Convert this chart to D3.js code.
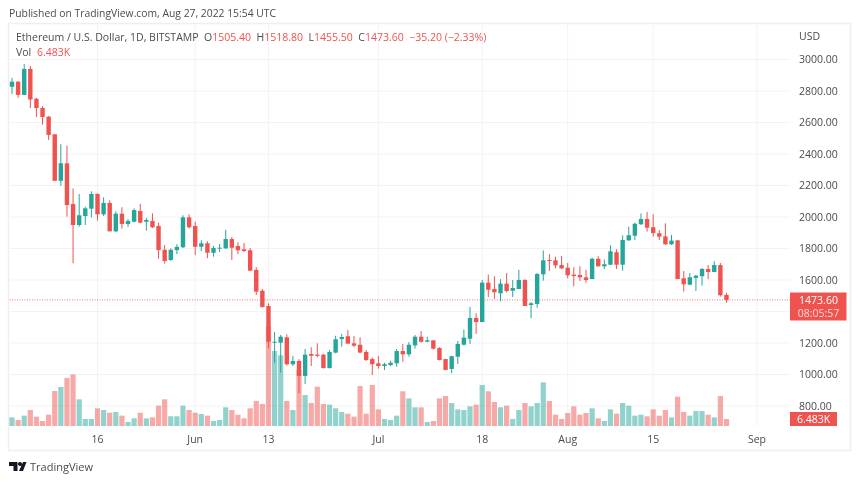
<!DOCTYPE html>
<html><head><meta charset="utf-8">
<script src="https://cdn.jsdelivr.net/npm/d3@7"></script>
<style>html,body{margin:0;padding:0;background:#fff}svg{display:block;filter:blur(.3px)}text{font-family:"Open Sans",sans-serif}</style>
</head><body><svg id="c" width="860" height="482"></svg>
<script>
const startDate = "2022-05-02";
const opens = [2827,2859,2775,2940,2751,2692,2637,2525,2230,2341,2083,1949,2006,2053,2146,2017,2089,1909,2021,1956,1970,2038,1970,1975,1943,1792,1727,1790,1808,1998,1943,1811,1833,1773,1799,1801,1860,1816,1795,1789,1664,1532,1435,1202,1202,1236,1065,1086,991,1130,1126,1126,1041,1139,1225,1243,1198,1189,1143,1098,1071,1054,1060,1071,1149,1128,1185,1240,1208,1217,1168,1098,1035,1113,1189,1227,1359,1333,1583,1543,1516,1577,1532,1543,1600,1441,1448,1636,1727,1725,1695,1678,1634,1632,1617,1606,1735,1687,1697,1776,1697,1852,1881,1954,1987,1935,1897,1877,1827,1852,1611,1570,1613,1624,1670,1651,1695,1505.4];
const highs = [2883,2863,2971,2959,2756,2705,2641,2525,2462,2453,2182,2146,2065,2163,2150,2125,2106,2036,2062,1987,2055,2084,1994,2023,1964,1822,1801,1827,2011,2017,1970,1852,1846,1816,1829,1919,1873,1839,1835,1803,1681,1543,1452,1270,1251,1255,1118,1097,1162,1173,1198,1130,1156,1246,1257,1283,1244,1236,1156,1109,1118,1075,1088,1162,1194,1206,1251,1276,1240,1217,1173,1098,1120,1213,1285,1429,1389,1600,1634,1624,1605,1644,1600,1664,1605,1460,1644,1788,1765,1748,1752,1708,1681,1687,1664,1742,1752,1731,1820,1795,1884,1938,1964,2023,2032,2017,1917,1960,1886,1852,1657,1644,1632,1676,1695,1719,1708,1518.8];
const lows = [2781,2757,2775,2692,2635,2586,2489,2229,2199,2002,1706,1938,1949,1998,1977,2006,1909,1903,1926,1938,1966,1960,1913,1930,1735,1704,1721,1765,1803,1926,1759,1784,1738,1748,1778,1797,1727,1765,1778,1659,1505,1424,1166,1075,1012,1056,1054,881,940,1054,1109,1038,1038,1135,1177,1194,1173,1137,1086,997,1037,1029,1054,1050,1081,1113,1164,1202,1205,1158,1090,1027,1008,1067,1185,1194,1257,1333,1492,1481,1465,1522,1492,1543,1435,1357,1424,1596,1657,1674,1670,1611,1560,1594,1583,1606,1685,1670,1697,1670,1659,1848,1854,1949,1907,1875,1854,1822,1822,1606,1526,1566,1530,1564,1606,1651,1494,1455.5];
const closes = [2859,2775,2940,2746,2692,2635,2521,2230,2341,2076,1949,2011,2055,2146,2017,2089,1909,2021,1956,1975,2044,1964,1981,1935,1790,1721,1792,1810,1998,1935,1811,1833,1773,1803,1805,1860,1805,1789,1784,1659,1526,1429,1208,1208,1240,1065,1086,991,1126,1119,1118,1041,1143,1224,1238,1196,1183,1139,1092,1065,1054,1065,1075,1149,1128,1189,1240,1208,1217,1164,1092,1029,1116,1194,1234,1359,1333,1583,1538,1522,1577,1530,1549,1600,1435,1452,1638,1725,1721,1693,1674,1630,1625,1617,1600,1735,1687,1700,1782,1697,1854,1884,1957,1987,1932,1898,1875,1827,1850,1606,1573,1617,1627,1670,1651,1695,1503,1473.6];
const volumes = [8.0,5.6,9.6,14.8,8.6,4.6,10.5,32.4,36.1,44.5,47.8,24.7,6.5,6.5,16.4,14.8,12.3,13.0,9.6,3.7,7.1,12.3,7.1,8.0,18.8,24.7,9.0,9.0,18.8,14.8,12.3,11.1,9.6,4.6,5.6,17.3,14.8,10.5,7.1,16.4,23.2,20.4,92.6,69.5,65.5,23.2,14.8,51.9,28.7,21.3,36.4,20.4,19.8,16.4,13.0,11.4,8.6,37.0,11.4,38.0,15.4,6.5,5.6,9.6,32.1,25.6,17.3,17.3,3.7,4.6,25.6,27.8,21.3,15.4,14.8,18.2,19.8,38.0,32.1,22.2,17.3,18.8,6.5,14.8,21.3,18.2,21.3,40.4,23.2,10.5,6.5,12.0,18.2,10.5,12.0,16.4,7.1,4.6,15.4,11.4,21.3,18.8,9.6,10.5,9.0,15.4,9.6,14.8,8.0,27.2,13.0,9.6,13.9,13.9,10.5,8.0,27.8,6.483];
const gridTicks = [3000,2800,2600,2400,2200,2000,1800,1600,1400,1200,1000,800];
const priceLabels = [3000,2800,2600,2400,2200,2000,1800,1600,1200,1000,800];
const timeTicks = [["2022-05-16","16"],["2022-06-01","Jun"],["2022-06-13","13"],["2022-07-01","Jul"],["2022-07-18","18"],["2022-08-01","Aug"],["2022-08-15","15"],["2022-09-01","Sep"]];
const titleText = "Ethereum / U.S. Dollar, 1D, BITSTAMP";
const published = "Published on TradingView.com, Aug 27, 2022 15:54 UTC";
const ohlcLegend = [["O","1505.40"],["H","1518.80"],["L","1455.50"],["C","1473.60"],["","\u221235.20 (\u22122.33%)"]];

const UP="#26a69a", DOWN="#ef5350", GRID="#f3f3f6", TEXT="#4a4a52", FRAME="#eeeef4";
const parse=d3.utcParse("%Y-%m-%d");
const svg=d3.select("#c");
const x=d3.scaleUtc().domain([parse("2022-05-02"),parse("2022-09-01")]).range([12,757]);
const y=d3.scaleLinear().domain([800,3000]).range([406,59.5]);
const v=d3.scaleLinear().domain([0,6.483]).range([426,419]);
const days=opens.map((_,i)=>d3.utcDay.offset(parse(startDate),i));
const candles=days.map((d,i)=>({d,o:opens[i],h:highs[i],l:lows[i],c:closes[i],vol:volumes[i]}));
const col=d=>d.c>=d.o?UP:DOWN;

// frame
const L=8.5,R=850.5,T=23.5,B=450.5,AX=790;
svg.append("rect").attr("x",L).attr("y",T).attr("width",R-L).attr("height",B-T).attr("fill","#fff").attr("stroke",FRAME).attr("stroke-width",1.5);

// grid
svg.append("g").selectAll("line").data(gridTicks).join("line")
 .attr("x1",L+1).attr("x2",AX).attr("y1",d=>y(d)).attr("y2",d=>y(d)).attr("stroke",GRID);
svg.append("g").selectAll("line").data(timeTicks).join("line")
 .attr("x1",d=>x(parse(d[0]))).attr("x2",d=>x(parse(d[0]))).attr("y1",T+1).attr("y2",426).attr("stroke",GRID);

// volume
svg.append("g").selectAll("rect").data(candles).join("rect")
 .attr("x",d=>x(d.d)-2.6).attr("width",5.2).attr("y",d=>v(d.vol)).attr("height",d=>426-v(d.vol))
 .attr("fill",col).attr("fill-opacity",.5);

// last price line
svg.append("line").attr("x1",L+1).attr("x2",AX).attr("y1",y(1473.6)).attr("y2",y(1473.6))
 .attr("stroke",DOWN).attr("stroke-dasharray","1 1.5").attr("stroke-opacity",.8);

// candles
svg.append("g").selectAll("line").data(candles).join("line")
 .attr("x1",d=>x(d.d)).attr("x2",d=>x(d.d)).attr("y1",d=>y(d.h)).attr("y2",d=>y(d.l))
 .attr("stroke",col).attr("stroke-width",1);
svg.append("g").selectAll("rect").data(candles).join("rect")
 .attr("x",d=>x(d.d)-2.2).attr("width",4.4)
 .attr("y",d=>y(Math.max(d.o,d.c))).attr("height",d=>Math.max(1,Math.abs(y(d.o)-y(d.c))))
 .attr("fill",col);

// price axis
const t=(s,px,py,o={})=>svg.append("text").text(s).attr("x",px).attr("y",py)
 .attr("font-size",o.size||10.5).attr("fill",o.fill||TEXT).attr("text-anchor",o.anchor||"start").attr("font-weight",o.weight||400);
priceLabels.forEach(p=>t(d3.format(".2f")(p),799,y(p)+3.7));
t("USD",799,40);
timeTicks.forEach(d=>t(d[1],x(parse(d[0])),442.5,{anchor:"middle"}));

// labels
svg.append("rect").attr("x",AX).attr("y",292.5).attr("width",56.5).attr("height",28).attr("fill",DOWN);
t("1473.60",818.5,304,{fill:"#fff",anchor:"middle"});
t("08:05:57",818.5,317,{fill:"#ffd8d7",anchor:"middle"});
svg.append("rect").attr("x",AX).attr("y",412).attr("width",47).attr("height",14).attr("fill",DOWN);
t("6.483K",813.5,423,{fill:"#fff",anchor:"middle"});

// header
t(published,9,17,{size:10.35});
t(titleText,16,41,{size:10.5});
let lx=204;
ohlcLegend.forEach(([a,b])=>{
  const e=svg.append("text").attr("x",lx).attr("y",41).attr("font-size",10.5);
  e.append("tspan").text(a).attr("fill",TEXT);
  e.append("tspan").text(b).attr("fill",DOWN);
  lx+=e.node().getComputedTextLength()+5.5;
});
t("Vol",16,56);
t("6.483K",37,56,{fill:DOWN});

// footer
svg.append("path").attr("d","M9 462H17.5V471H13.5V466H9ZM19 471 L23 462H26.5L23 471ZM20 462a2 2 0 1 0 .01 0Z").attr("fill","#131722");
t("TradingView",30,471,{size:11});
</script></body></html>
